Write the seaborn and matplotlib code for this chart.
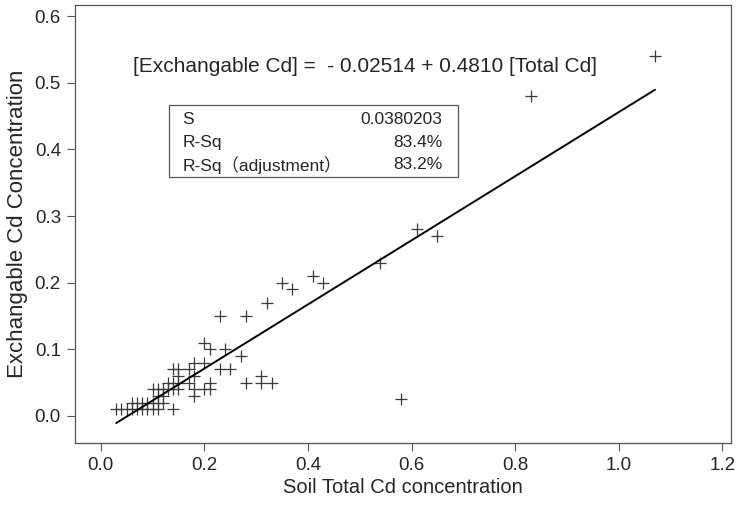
import numpy as np
import pandas as pd
import matplotlib
matplotlib.use("Agg")
import matplotlib.pyplot as plt
from matplotlib.patches import Rectangle
import seaborn as sns

# soil total Cd (x) and exchangeable Cd (y)
total_cd = [0.03, 0.04, 0.05, 0.06, 0.07, 0.08, 0.09, 0.10, 0.11, 0.14,
            0.06, 0.07, 0.08, 0.09, 0.10, 0.11, 0.12,
            0.11, 0.12, 0.18,
            0.10, 0.11, 0.12, 0.13, 0.14, 0.15, 0.18, 0.20, 0.21,
            0.13, 0.14, 0.15, 0.17, 0.21, 0.28, 0.31, 0.33,
            0.15, 0.18, 0.31,
            0.14, 0.15, 0.17, 0.23, 0.25,
            0.18, 0.20,
            0.27,
            0.21, 0.24,
            0.20,
            0.23, 0.28,
            0.32,
            0.37, 0.35, 0.43, 0.41,
            0.54, 0.58,
            0.65, 0.61,
            0.83, 1.07]
exch_cd = [0.01, 0.01, 0.01, 0.01, 0.01, 0.01, 0.01, 0.01, 0.01, 0.01,
           0.02, 0.02, 0.02, 0.02, 0.02, 0.02, 0.02,
           0.03, 0.03, 0.03,
           0.04, 0.04, 0.04, 0.04, 0.04, 0.04, 0.04, 0.04, 0.04,
           0.05, 0.05, 0.05, 0.05, 0.05, 0.05, 0.05, 0.05,
           0.06, 0.06, 0.06,
           0.07, 0.07, 0.07, 0.07, 0.07,
           0.08, 0.08,
           0.09,
           0.10, 0.10,
           0.11,
           0.15, 0.15,
           0.17,
           0.19, 0.20, 0.20, 0.21,
           0.23, 0.025,
           0.27, 0.28,
           0.48, 0.54]

intercept = -0.02514
slope = 0.4810
stat_names = ["S", "R-Sq", "R-Sq（adjustment）"]
stat_values = ["0.0380203", "83.4%", "83.2%"]

x_ticks = [0.0, 0.2, 0.4, 0.6, 0.8, 1.0, 1.2]
y_ticks = [0.0, 0.1, 0.2, 0.3, 0.4, 0.5, 0.6]

df = pd.DataFrame({"total": total_cd, "exch": exch_cd})
fit_x = np.array([min(total_cd), max(total_cd)])
fit = pd.DataFrame({"total": fit_x, "exch": intercept + slope * fit_x})

sns.set_style("ticks")
fonts = ["Liberation Sans", "Noto Sans CJK SC", "DejaVu Sans"]
plt.rcParams["font.family"] = fonts

fig = plt.figure(figsize=(7.41, 5.12), dpi=100)
ax = fig.add_axes([0.101, 0.135, 0.885, 0.855])

sns.scatterplot(data=df, x="total", y="exch", marker="+", s=75,
                color="#3a3a3a", linewidth=0.9, ax=ax)
sns.lineplot(data=fit, x="total", y="exch", color="black", linewidth=1.4, ax=ax)

ax.set_xlim(-0.05, 1.216)
ax.set_ylim(-0.0405, 0.6165)
ax.set_xticks(x_ticks)
ax.set_yticks(y_ticks)
ax.set_xticklabels([f"{t:.1f}" for t in x_ticks], fontsize=13.5)
ax.set_yticklabels([f"{t:.1f}" for t in y_ticks], fontsize=13.5)
ax.tick_params(length=6, width=0.8, color="#555555", pad=4)
for sp in ax.spines.values():
    sp.set_color("#555555")
    sp.set_linewidth(0.9)

ax.set_xlabel("Soil Total Cd concentration", fontsize=14.5, labelpad=3)
ax.set_ylabel("Exchangable Cd Concentration", fontsize=16, labelpad=5)

# regression equation
ax.text(0.088, 0.859, f"[Exchangable Cd] =  - {abs(intercept):.5f} + {slope:.4f} [Total Cd]",
        transform=ax.transAxes, fontsize=15, va="center", ha="left")

# statistics box
ax.add_patch(Rectangle((0.143, 0.608), 0.442, 0.164, transform=ax.transAxes,
                       fill=False, edgecolor="#555555", linewidth=0.9))
row_y = [0.738, 0.686, 0.635]
for name, val, yy in zip(stat_names, stat_values, row_y):
    ax.text(0.164, yy, name, transform=ax.transAxes, fontsize=12.5, va="center",
            ha="left", family=fonts)
    ax.text(0.561, yy, val, transform=ax.transAxes, fontsize=12.5, va="center",
            ha="right", family=fonts)

fig.savefig("out.png", dpi=100)
